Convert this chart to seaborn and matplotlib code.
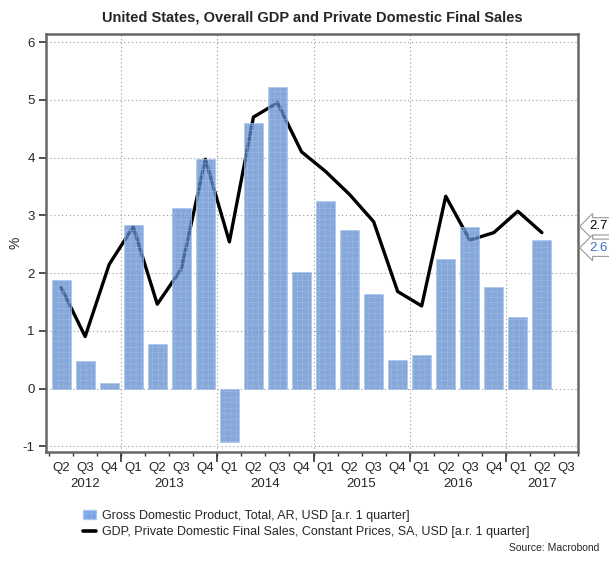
import numpy as np
import pandas as pd
import matplotlib
matplotlib.use('Agg')
import matplotlib.pyplot as plt
from matplotlib.patches import Patch
from matplotlib.lines import Line2D
import seaborn as sns

years = [2012]*3 + [2013]*4 + [2014]*4 + [2015]*4 + [2016]*4 + [2017]*3
quarters = ['Q2', 'Q3', 'Q4'] + ['Q1', 'Q2', 'Q3', 'Q4']*4 + ['Q1', 'Q2', 'Q3']
gdp = [1.88, 0.48, 0.09, 2.83, 0.77, 3.12, 3.97, -0.92, 4.60, 5.22, 2.02,
       3.24, 2.74, 1.64, 0.49, 0.58, 2.24, 2.79, 1.76, 1.24, 2.57]
pdfs = [1.75, 0.90, 2.15, 2.80, 1.46, 2.07, 3.97, 2.54, 4.70, 4.95, 4.10,
        3.76, 3.36, 2.89, 1.68, 1.43, 3.33, 2.57, 2.70, 3.07, 2.70]

n = len(quarters)
df = pd.DataFrame({'pos': np.arange(len(gdp)), 'gdp': gdp, 'pdfs': pdfs})

sns.set_style('white')
plt.rcParams['font.family'] = ['Liberation Sans', 'DejaVu Sans']
plt.rcParams['axes.unicode_minus'] = False
plt.rcParams['hatch.linewidth'] = 0.35

bar_col = '#4a86e0'
bar_edge = '#a8c4ee'
fig = plt.figure(figsize=(6.09, 5.62), dpi=100)
ax = fig.add_axes([0.0755, 0.1957, 0.8735, 0.7438])

# grid under everything
for v in range(-1, 7):
    ax.axhline(v, color='#999999', ls=(0, (1, 2.5)), lw=0.8, zorder=0)
year_bounds = [i - 0.5 for i in range(1, n) if quarters[i] == 'Q1']
for b in year_bounds:
    ax.axvline(b, color='#999999', ls=(0, (1, 2.5)), lw=0.8, zorder=0)

sns.lineplot(data=df, x='pos', y='pdfs', color='black', lw=2.4, ax=ax, zorder=2)
sns.barplot(data=df, x='pos', y='gdp', native_scale=True, color=bar_col, width=0.8,
            alpha=0.75, edgecolor=bar_edge, linewidth=0.6, hatch='+++', ax=ax, zorder=3)

ax.set_xlim(-0.63, n - 0.55)
ax.set_ylim(-1.1, 6.14)
ax.set_yticks(range(-1, 7))
ax.set_xlabel('')
ax.set_ylabel('%', fontsize=10)
ax.yaxis.set_label_coords(-0.045, 0.5)

for s in ax.spines.values():
    s.set_color('#666666')
    s.set_linewidth(1.8)

ax.tick_params(axis='y', which='major', left=True, length=5, width=1.2,
               color='#333333', labelsize=9.5, pad=3)
ax.set_xticks(np.arange(n))
ax.set_xticklabels(quarters)
ax.set_xticks(np.arange(n + 1) - 0.5, minor=True)
ax.tick_params(axis='x', which='major', length=0, labelsize=9.5, pad=7)
ax.tick_params(axis='x', which='minor', bottom=True, length=3, width=1.0, color='#333333')

# year boundary ticks and year labels
sec = ax.secondary_xaxis('bottom')
sec.set_xticks(year_bounds)
sec.set_xticklabels([''] * len(year_bounds))
sec.tick_params(axis='x', length=7, width=1.2, color='#333333')
sec.spines['bottom'].set_visible(False)
yr_list = sorted(set(years))
yr_centers = [np.mean([i for i in range(n) if years[i] == y]) for y in yr_list]
sec.set_xticks(yr_centers, minor=True)
sec.set_xticklabels([str(y) for y in yr_list], minor=True)
sec.tick_params(axis='x', which='minor', length=0, labelsize=9.5, pad=19)

ax.set_title('United States, Overall GDP and Private Domestic Final Sales',
             fontsize=10.5, fontweight='bold', pad=9)

# value callouts on the right
for val, col, dy in [(pdfs[-1], 'black', 4.5), (gdp[-1], '#3a70c8', -5.5)]:
    ax.annotate(f'{val:.1f}', xy=(1.0, val), xycoords=('axes fraction', 'data'),
                xytext=(8, dy), textcoords='offset points', va='center', ha='left',
                fontsize=9.5, color=col, annotation_clip=False,
                bbox=dict(boxstyle='larrow,pad=0.2', fc='white', ec='#999999', lw=0.8))

handles = [Patch(facecolor=bar_col, alpha=0.75, edgecolor=bar_edge, hatch='+++'),
           Line2D([0], [0], color='black', lw=2.6)]
labels = ['Gross Domestic Product, Total, AR, USD [a.r. 1 quarter]',
          'GDP, Private Domestic Final Sales, Constant Prices, SA, USD [a.r. 1 quarter]']
fig.legend(handles, labels, loc='center left', bbox_to_anchor=(0.118, 0.068),
           bbox_transform=fig.transFigure, frameon=False, fontsize=9,
           handlelength=1.0, handletextpad=0.5, labelspacing=0.35)

fig.text(0.985, 0.016, 'Source: Macrobond', ha='right', va='bottom', fontsize=7.5)

fig.savefig('out.png', dpi=100)
